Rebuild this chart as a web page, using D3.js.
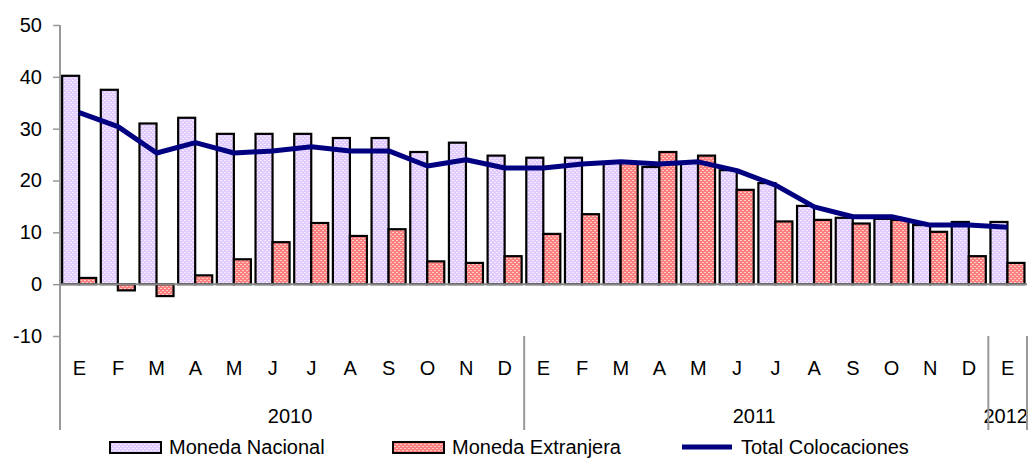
<!DOCTYPE html>
<html>
<head>
<meta charset="utf-8">
<script src="https://cdn.jsdelivr.net/npm/d3@7"></script>
<style>
  html, body { margin: 0; padding: 0; background: #fff; }
  svg { display: block; font-family: "Liberation Sans", Arial, sans-serif; }
</style>
</head>
<body>
<svg id="chart" width="1032" height="458"></svg>
<script>
const months = ["E","F","M","A","M","J","J","A","S","O","N","D",
                "E","F","M","A","M","J","J","A","S","O","N","D",
                "E"];
const years = ["2010", "2011", "2012"];
const yearCounts = [12, 12, 1];
const yTicks = [-10, 0, 10, 20, 30, 40, 50];

const monedaNacional = [40.2, 37.5, 31.0, 32.1, 29.0, 29.0, 29.0, 28.2, 28.2, 25.5, 27.3, 24.8,
                        24.4, 24.4, 23.5, 22.6, 23.5, 22.0, 19.5, 15.1, 12.8, 12.6, 11.4, 12.0,
                        12.0];
const monedaExtranjera = [1.2, -1.2, -2.3, 1.7, 4.8, 8.1, 11.8, 9.3, 10.6, 4.4, 4.1, 5.4,
                          9.7, 13.5, 23.4, 25.5, 24.8, 18.2, 12.1, 12.4, 11.7, 12.4, 10.1, 5.4,
                          4.1];
const totalColocaciones = [33.1, 30.4, 25.3, 27.3, 25.3, 25.7, 26.5, 25.7, 25.7, 22.8, 24.0, 22.4,
                           22.4, 23.2, 23.6, 23.2, 23.6, 21.9, 19.1, 14.9, 13.0, 13.0, 11.4, 11.4,
                           11.0];

(function () {
const svg = d3.select("#chart");
const pLeft = 60, pRight = 1027, pTop = 25, pBottom = 336;
const FONT = 20;

const idx = d3.range(months.length);
const x = d3.scaleBand().domain(idx).range([pLeft, pRight]).paddingInner(0).paddingOuter(0);
const y = d3.scaleLinear().domain([-10, 50]).range([pBottom, pTop]);
const bw = x.bandwidth();

// patterns
const defs = svg.append("defs");
const pPink = defs.append("pattern").attr("id", "pinkPat").attr("patternUnits", "userSpaceOnUse")
  .attr("width", 4).attr("height", 4);
pPink.append("rect").attr("width", 4).attr("height", 4).attr("fill", "#e0caff");
pPink.append("rect").attr("x", 0).attr("y", 0).attr("width", 2).attr("height", 1).attr("fill", "#fff").attr("opacity", 0.7);
pPink.append("rect").attr("x", 2).attr("y", 2).attr("width", 2).attr("height", 1).attr("fill", "#fff").attr("opacity", 0.7);

const pRed = defs.append("pattern").attr("id", "redPat").attr("patternUnits", "userSpaceOnUse")
  .attr("width", 4).attr("height", 4);
pRed.append("rect").attr("width", 4).attr("height", 4).attr("fill", "#ff7f7f");
pRed.append("rect").attr("x", 0).attr("y", 0).attr("width", 2).attr("height", 1).attr("fill", "#fff").attr("opacity", 0.6);
pRed.append("rect").attr("x", 2).attr("y", 2).attr("width", 2).attr("height", 1).attr("fill", "#fff").attr("opacity", 0.6);

defs.append("clipPath").attr("id", "clipR").append("rect")
  .attr("x", 0).attr("y", 0).attr("width", pRight + 1).attr("height", 458);

// y axis
const yAxis = d3.axisLeft(y).tickValues(yTicks).tickSize(7).tickPadding(11).tickFormat(d => String(d));
const gy = svg.append("g").attr("transform", `translate(${pLeft},0)`).call(yAxis);
gy.select(".domain").remove();
gy.selectAll(".tick line").attr("stroke", "#999").attr("stroke-width", 1.5);
gy.selectAll(".tick text").attr("fill", "#000").style("font-size", FONT + "px")
  .style("font-family", "'Liberation Sans', Arial, sans-serif");
svg.append("line").attr("x1", pLeft).attr("x2", pLeft).attr("y1", pTop).attr("y2", 430)
  .attr("stroke", "#999").attr("stroke-width", 2);

// bars
const barW = bw * 0.44;
const off = bw * 0.055;
svg.append("g").selectAll("rect").data(idx).join("rect")
  .attr("x", i => x(i) + off)
  .attr("width", barW)
  .attr("y", i => y(Math.max(0, monedaNacional[i])))
  .attr("height", i => Math.abs(y(monedaNacional[i]) - y(0)))
  .attr("fill", "url(#pinkPat)").attr("stroke", "#000").attr("stroke-width", 2.2);

svg.append("g").selectAll("rect").data(idx).join("rect")
  .attr("x", i => x(i) + off + barW)
  .attr("width", barW)
  .attr("y", i => y(Math.max(0, monedaExtranjera[i])))
  .attr("height", i => Math.abs(y(monedaExtranjera[i]) - y(0)))
  .attr("fill", "url(#redPat)").attr("stroke", "#000").attr("stroke-width", 2.2);

// zero line
svg.append("line").attr("x1", pLeft).attr("x2", pRight).attr("y1", y(0)).attr("y2", y(0))
  .attr("stroke", "#888").attr("stroke-width", 2);

// total line
const line = d3.line().x(i => x(i) + bw / 2).y(i => y(totalColocaciones[i]));
svg.append("path").datum(idx).attr("d", line).attr("fill", "none")
  .attr("stroke", "#000080").attr("stroke-width", 5).attr("stroke-linejoin", "round");

// month labels
svg.append("g").selectAll("text").data(idx).join("text")
  .attr("x", i => x(i) + bw / 2).attr("y", 375)
  .attr("text-anchor", "middle").style("font-size", FONT + "px").attr("fill", "#000")
  .text(i => months[i]);

// year groups
let start = 0;
const gYears = svg.append("g").attr("clip-path", "url(#clipR)");
years.forEach((yr, k) => {
  const s = start, e = start + yearCounts[k];
  const xs = x(s), xe = e >= months.length ? pRight : x(e);
  gYears.append("text").attr("x", (xs + xe) / 2 - 2).attr("y", 423)
    .attr("text-anchor", "middle").style("font-size", FONT + "px").attr("fill", "#000").text(yr);
  start = e;
});
// separators
let acc = 0;
yearCounts.forEach((c) => {
  acc += c;
  const xs = acc >= months.length ? pRight : x(acc);
  svg.append("line").attr("x1", xs).attr("x2", xs).attr("y1", pBottom).attr("y2", 430)
    .attr("stroke", "#999").attr("stroke-width", 2);
});

// legend
const leg = svg.append("g");
const legendItems = [
  { name: "Moneda Nacional", type: "bar", fill: "url(#pinkPat)", x: 110 },
  { name: "Moneda Extranjera", type: "bar", fill: "url(#redPat)", x: 393 },
  { name: "Total Colocaciones", type: "line", x: 682 }
];
legendItems.forEach(it => {
  if (it.type === "bar") {
    leg.append("rect").attr("x", it.x).attr("y", 442).attr("width", 51).attr("height", 11)
      .attr("fill", it.fill).attr("stroke", "#000").attr("stroke-width", 2);
  } else {
    leg.append("line").attr("x1", it.x).attr("x2", it.x + 50).attr("y1", 447).attr("y2", 447)
      .attr("stroke", "#000080").attr("stroke-width", 5);
  }
  leg.append("text").attr("x", it.x + 59).attr("y", 454).style("font-size", FONT + "px")
    .attr("fill", "#000").text(it.name);
});
})();
</script>
</body>
</html>
